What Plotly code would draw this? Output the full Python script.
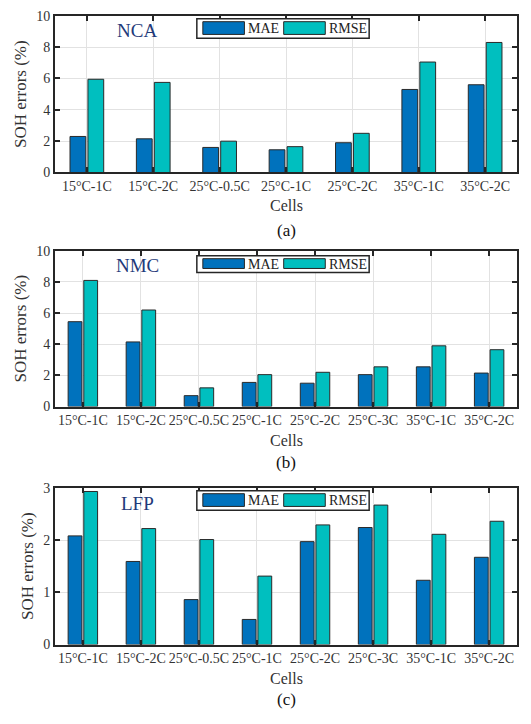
import plotly.graph_objects as go

cells_nca = ["15°C-1C", "15°C-2C", "25°C-0.5C", "25°C-1C", "25°C-2C", "35°C-1C", "35°C-2C"]
nca_mae = [2.3, 2.15, 1.6, 1.45, 1.9, 5.3, 5.6]
nca_rmse = [5.95, 5.75, 2.0, 1.65, 2.5, 7.05, 8.3]

cells_8 = ["15°C-1C", "15°C-2C", "25°C-0.5C", "25°C-1C", "25°C-2C", "25°C-3C", "35°C-1C", "35°C-2C"]
nmc_mae = [5.45, 4.15, 0.7, 1.55, 1.5, 2.05, 2.55, 2.15]
nmc_rmse = [8.1, 6.2, 1.2, 2.05, 2.2, 2.55, 3.9, 3.65]

lfp_mae = [2.08, 1.59, 0.86, 0.48, 1.97, 2.24, 1.23, 1.67]
lfp_rmse = [2.93, 2.22, 2.01, 1.31, 2.29, 2.67, 2.11, 2.36]

panel_names = ["NCA", "NMC", "LFP"]
captions = ["(a)", "(b)", "(c)"]
y_ticks = [[0, 2, 4, 6, 8, 10], [0, 2, 4, 6, 8, 10], [0, 1, 2, 3]]
y_ranges = [[0, 10], [0, 10], [0, 3]]

MAE_C = "#0072BD"
RMSE_C = "#00BFBF"
FONT = "Liberation Serif"
W, H = 531, 724

# pixel geometry of each panel (top, bottom)
panels_px = [(9, 169), (249, 408), (491, 651)]

data = [(cells_nca, nca_mae, nca_rmse), (cells_8, nmc_mae, nmc_rmse), (cells_8, lfp_mae, lfp_rmse)]

fig = go.Figure()
shapes = []
annotations = []
for i, (cats, mae, rmse) in enumerate(data):
    ax = "" if i == 0 else str(i + 1)
    xr = "x" + ax
    yr = "y" + ax
    idx = list(range(len(cats)))
    fig.add_trace(go.Bar(x=idx, y=mae, name="MAE", marker=dict(color=MAE_C, line=dict(color="#2a2a2a", width=1)),
                         xaxis=xr, yaxis=yr, showlegend=False, offsetgroup="a"))
    fig.add_trace(go.Bar(x=idx, y=rmse, name="RMSE", marker=dict(color=RMSE_C, line=dict(color="#2a2a2a", width=1)),
                         xaxis=xr, yaxis=yr, showlegend=False, offsetgroup="b"))
    top, bot = panels_px[i]
    dom = [(H - bot) / H, (H - top) / H]
    n = len(cats)
    axis_common = dict(showline=True, linecolor="#262626", linewidth=2, mirror="ticks",
                       ticks="inside", ticklen=5, tickwidth=1.5, tickcolor="#262626",
                       showgrid=True, gridcolor="#e2e2e2", gridwidth=1, zeroline=False,
                       tickfont=dict(family=FONT, size=14, color="#333333"))
    fig.layout["xaxis" + ax] = dict(axis_common, domain=[0, 1], anchor=yr, range=[-0.48, n - 0.52],
                                    tickmode="array", tickvals=idx, ticktext=cats)
    fig.layout["yaxis" + ax] = dict(axis_common, domain=dom, anchor=xr, range=y_ranges[i],
                                    tickmode="array", tickvals=y_ticks[i],
                                    title=dict(text="SOH errors (%)", font=dict(family=FONT, size=17, color="#333333"), standoff=5))
    xd = xr + " domain"
    yd = yr + " domain"
    ph = bot - top
    # legend box
    lt, lb = 3 if i != 1 else 5, 23 if i != 1 else 22
    def fy(p):
        return 1 - p / ph
    shapes.append(dict(type="rect", xref=xd, yref=yd, x0=0.307, x1=0.68, y0=fy(lb), y1=fy(lt),
                       line=dict(color="#262626", width=1.5), fillcolor="white", layer="above"))
    shapes.append(dict(type="rect", xref=xd, yref=yd, x0=0.320, x1=0.410, y0=fy(lb - 4), y1=fy(lt + 3),
                       line=dict(color="#262626", width=1), fillcolor=MAE_C, layer="above"))
    shapes.append(dict(type="rect", xref=xd, yref=yd, x0=0.495, x1=0.585, y0=fy(lb - 4), y1=fy(lt + 3),
                       line=dict(color="#262626", width=1), fillcolor=RMSE_C, layer="above"))
    annotations.append(dict(xref=xd, yref=yd, x=0.414, y=fy((lt + lb) / 2), text="MAE", showarrow=False,
                            xanchor="left", yanchor="middle", font=dict(family=FONT, size=14, color="#222222")))
    annotations.append(dict(xref=xd, yref=yd, x=0.589, y=fy((lt + lb) / 2), text="RMSE", showarrow=False,
                            xanchor="left", yanchor="middle", font=dict(family=FONT, size=14, color="#222222")))
    # panel name
    ny = [15, 15, 16][i]
    annotations.append(dict(xref=xd, yref=yd, x=(137 - 55) / 462, y=fy(ny), text=panel_names[i], showarrow=False,
                            xanchor="center", yanchor="middle", font=dict(family=FONT, size=19, color="#1f3a7a")))
    # x axis title and caption
    cy = [203, 443, 686][i]
    capy = [228, 465, 707][i]
    annotations.append(dict(xref=xd, yref="paper", x=0.5, y=1 - cy / H, text="Cells", showarrow=False,
                            xanchor="center", yanchor="middle", font=dict(family=FONT, size=16, color="#333333")))
    annotations.append(dict(xref=xd, yref="paper", x=0.5, y=1 - capy / H, text=captions[i], showarrow=False,
                            xanchor="center", yanchor="middle", font=dict(family=FONT, size=17, color="#111111")))

fig.update_layout(width=W, height=H, margin=dict(l=55, r=14, t=0, b=0),
                  paper_bgcolor="white", plot_bgcolor="white",
                  barmode="group", bargap=0.46, bargroupgap=0.12,
                  shapes=shapes, annotations=annotations, showlegend=False)

fig.write_html("out.html")
